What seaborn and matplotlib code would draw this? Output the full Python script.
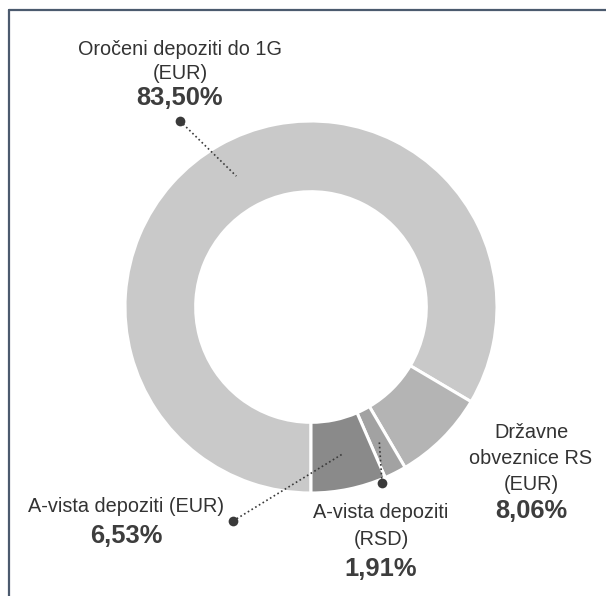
import matplotlib
matplotlib.use("Agg")
import matplotlib.pyplot as plt
import seaborn as sns
import numpy as np
from matplotlib.lines import Line2D

# ---- data ----
categories = ["Oročeni depoziti do 1G\n(EUR)", "Državne\nobveznice RS\n(EUR)",
              "A-vista depoziti\n(RSD)", "A-vista depoziti (EUR)"]
shares = [83.50, 8.06, 1.91, 6.53]
pct_labels = ["83,50%", "8,06%", "1,91%", "6,53%"]
colors = ["#c9c9c9", "#b4b4b4", "#a2a2a2", "#8a8a8a"]

# ---- layout (pixels) ----
W, H = 606, 596
CX, CY, R = 311, 307, 186
label_x = [180, 531, 381, 126]
label_base = [[55, 79], [438, 464, 490], [518, 545], [512]]
pct_base = [105, 518, 576, 543]
dot_px = [(180, 121), None, (382, 483), (233, 521)]

sns.set_theme(style="white")
plt.rcParams["font.family"] = ["Liberation Sans", "DejaVu Sans"]

fig = plt.figure(figsize=(W / 100, H / 100), dpi=100)
fig.patch.set_facecolor("white")
A = 300
ax = fig.add_axes([(CX - A) / W, (H - CY - A) / H, 2 * A / W, 2 * A / H])

wedges, _ = ax.pie(shares, colors=colors, startangle=-90, counterclock=False,
                   radius=1.0,
                   wedgeprops=dict(width=0.38, edgecolor="white", linewidth=2.2))
ax.set_xlim(-A / R, A / R)
ax.set_ylim(-A / R, A / R)
ax.set_aspect("equal")
ax.axis("off")


def to_data(px, py):
    return (px - CX) / R, (CY - py) / R


text_col = "#333333"
pct_col = "#3d3d3d"
for i, cat in enumerate(categories):
    lines = cat.split("\n")
    for ln, yb in zip(lines, label_base[i]):
        x, y = to_data(label_x[i], yb)
        ax.text(x, y, ln, ha="center", va="baseline", fontsize=14.3,
                color=text_col)
    x, y = to_data(label_x[i], pct_base[i])
    ax.text(x, y, pct_labels[i], ha="center", va="baseline", fontsize=18.4,
            fontweight="bold", color=pct_col)
    if dot_px[i] is not None:
        w = wedges[i]
        th = np.deg2rad((w.theta1 + w.theta2) / 2)
        rr = 0.81
        ex, ey = rr * np.cos(th), rr * np.sin(th)
        dx, dy = to_data(*dot_px[i])
        ax.plot([dx, ex], [dy, ey], color="#3a3a3a", lw=1.2,
                linestyle=(0, (1, 1.6)), solid_capstyle="butt")
        ax.plot([dx], [dy], marker="o", markersize=7, color="#3a3a3a",
                markeredgewidth=0)

# frame
fc = "#4b5a6e"
fig.add_artist(Line2D([8.5 / W, 8.5 / W], [0, (H - 10) / H], color=fc, lw=1.6,
                      transform=fig.transFigure))
fig.add_artist(Line2D([8.5 / W, 1], [(H - 10) / H, (H - 10) / H], color=fc,
                      lw=1.6, transform=fig.transFigure))

fig.savefig("out.png", dpi=100)
